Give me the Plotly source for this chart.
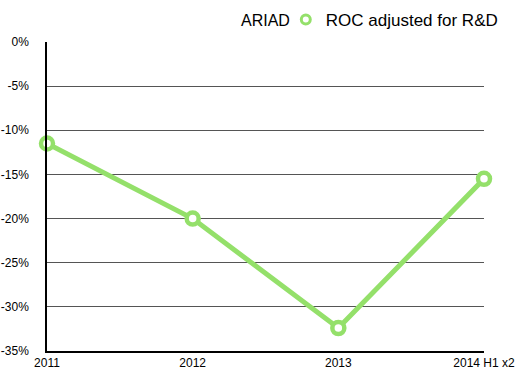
import plotly.graph_objects as go

categories = ["2011", "2012", "2013", "2014 H1 x2"]
roc_adjusted = [-11.5, -20.0, -32.4, -15.5]
series_name = "ROC adjusted for R&D"
title_text = "ARIAD"
tick_vals = [0, -5, -10, -15, -20, -25, -30, -35]
tick_text = [f"{v}%" for v in tick_vals]

green = "#94E06A"
font_family = "Liberation Sans, Arial, Helvetica, sans-serif"

fig = go.Figure()
fig.add_trace(go.Scatter(
    x=list(range(len(categories))), y=roc_adjusted,
    mode="lines+markers",
    line=dict(color=green, width=5),
    marker=dict(symbol="circle", size=12, color="white",
                line=dict(color=green, width=4.5)),
    showlegend=False, cliponaxis=False,
))
fig.add_trace(go.Scatter(
    x=[None], y=[None], mode="markers", name=series_name,
    marker=dict(symbol="circle", size=9, color="white",
                line=dict(color=green, width=3)),
))

fig.update_layout(
    width=525, height=376,
    margin=dict(l=47, r=41, t=42, b=25, autoexpand=False),
    paper_bgcolor="white", plot_bgcolor="white",
    font=dict(family=font_family, color="black", size=12),
    showlegend=True,
    legend=dict(orientation="h", x=1.043, xanchor="right", y=1.071, yanchor="middle",
                font=dict(size=17), itemwidth=30, bgcolor="rgba(0,0,0,0)"),
    annotations=[dict(text=title_text, x=0.500, xref="paper", y=1.071, yref="paper",
                      xanchor="center", yanchor="middle", showarrow=False,
                      font=dict(size=16))],
    xaxis=dict(
        range=[0, 3], tickvals=list(range(len(categories))), ticktext=categories,
        showgrid=False, zeroline=False, showline=True, linecolor="black", linewidth=2,
        ticks="", tickfont=dict(size=12),
    ),
    yaxis=dict(
        range=[-35, 0], tickvals=tick_vals, ticktext=tick_text,
        showgrid=True, gridcolor="#555555", gridwidth=1, zeroline=False,
        showline=True, linecolor="black", linewidth=1.5,
        ticks="", ticklabelstandoff=14, tickfont=dict(size=12),
    ),
)

fig.write_html("out.html", config={"displayModeBar": False},
               post_script="document.body.style.margin='0';")
